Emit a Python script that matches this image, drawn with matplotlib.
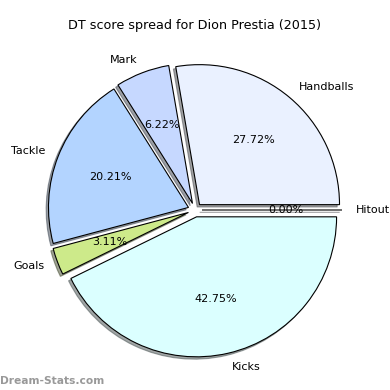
import matplotlib
matplotlib.use('Agg')
import matplotlib.pyplot as plt

labels = ['Hitout', 'Handballs', 'Mark', 'Tackle', 'Goals', 'Kicks']
values = [0.0, 27.72, 6.22, 20.21, 3.11, 42.75]
colors = ['#f0f0ff', '#eaf1ff', '#c6d8ff', '#b3d4ff', '#cdea8a', '#dbffff']
explode = [0.05] * len(values)

fig = plt.figure(figsize=(3.9, 3.9), dpi=100)
ax = fig.add_axes([20 / 390, 5 / 390, 350 / 390, 350 / 390])
ax.pie(values, labels=labels, colors=colors, explode=explode, autopct='%1.2f%%',
       shadow={'ox': -0.012, 'oy': -0.012}, startangle=0,
       wedgeprops={'edgecolor': 'black', 'linewidth': 0.8},
       textprops={'fontsize': 8})
ax.set_aspect('equal')
fig.text(0.5, 0.925, 'DT score spread for Dion Prestia (2015)', ha='center', fontsize=9.2)
fig.text(0.0, 0.015, 'Dream-Stats.com', color='#999999', fontsize=7.7, fontweight='bold')
fig.savefig('out.png')
